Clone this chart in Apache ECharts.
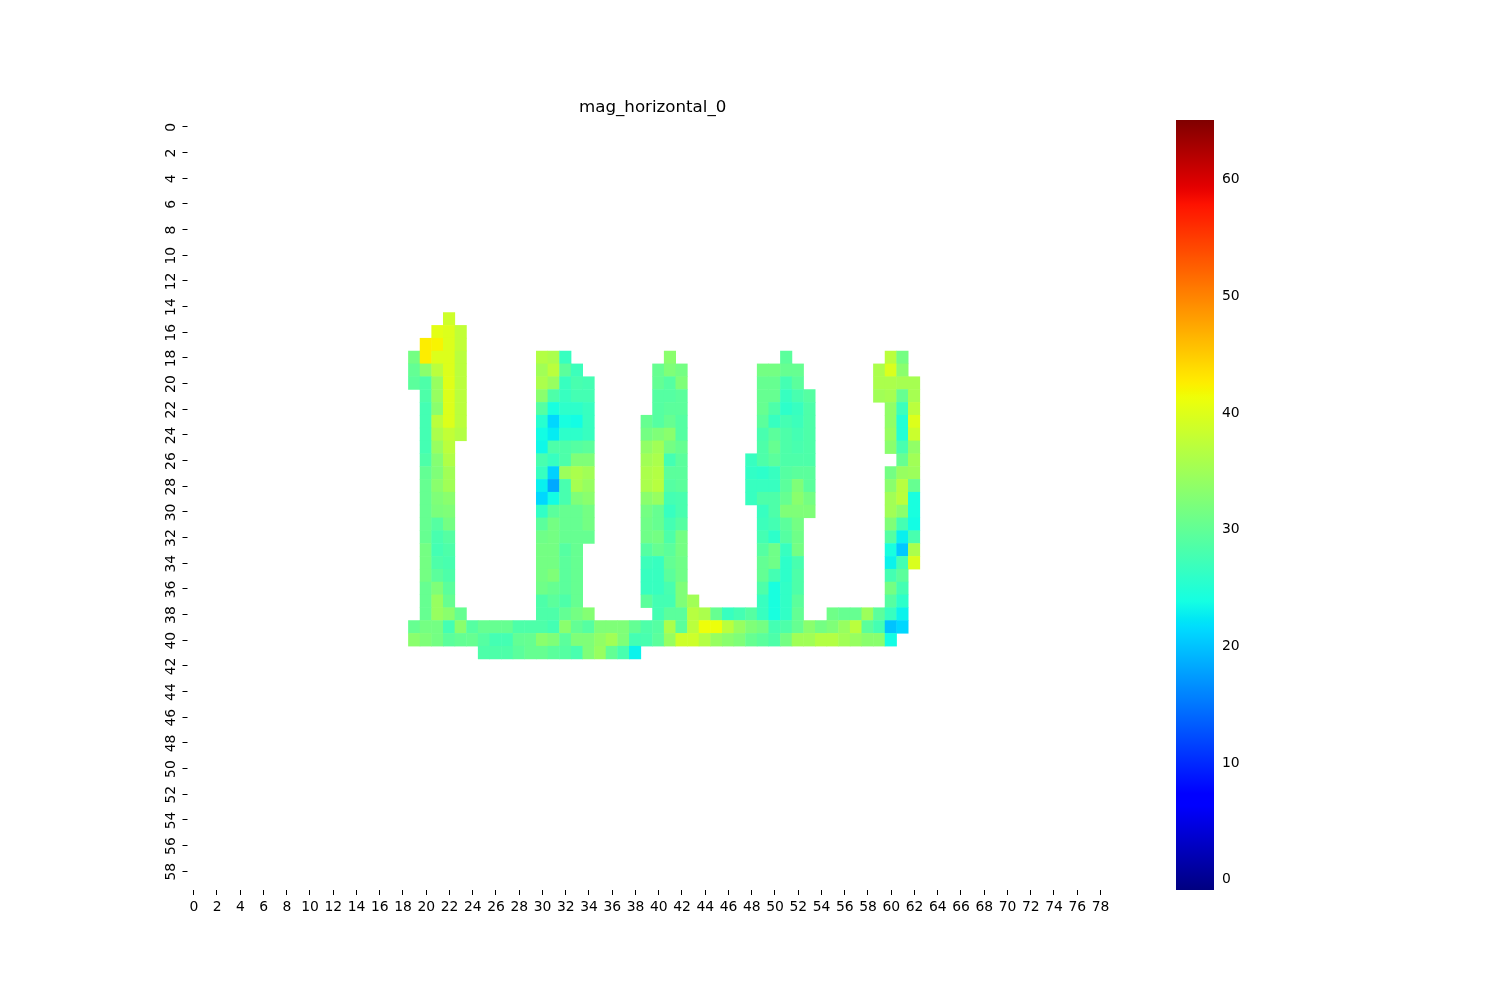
<!DOCTYPE html>
<html><head><meta charset="utf-8">
<style>html,body{margin:0;padding:0;background:#fff}#c{width:1500px;height:1000px}</style>
<script src="https://cdn.jsdelivr.net/npm/echarts@6/dist/echarts.min.js"></script>
</head><body><div id="c"></div>
<script>
const xCategories = Array.from({length:80},(_,i)=>String(i));
const yCategories = Array.from({length:60},(_,i)=>String(i));
const colorbarTicks = [0,10,20,30,40,50,60];
const valueMin = -1, valueMax = 65;
// each row: list of runs; a run is [first column, value, value, ...]
const row15 = [[22,38.5]];
const row16 = [[21,40.3,39.7,37.6]];
const row17 = [[20,42.5,42,39.7,37.6]];
const row18 = [[19,31.4,42.5,39.7,39.7,37],[30,36.5,35.8,26.5],[41,33.2],[51,29.4],[60,37,31.4]];
const row19 = [[19,30,33.2,37,39.7,37],[30,35,37,29.4,26.9],[40,30.3,32.3,31.4],[49,31.4,31.4,30.3,30.3],[59,35.8,39.5,33.2]];
const row20 = [[19,29.4,28.3,34.2,40,37],[30,35.8,34.2,26.5,27.9,27.5],[40,30,28.9,32.3],[49,30.3,30.3,27.5,29.4],[59,35.8,35.8,35.4,35.4]];
const row21 = [[20,28.3,34.2,39.7,37],[30,33.2,28.3,26.5,27.5,27.5],[40,28.9,28.9,29.4],[49,30.3,30.3,26.5,27.9,28.9],[59,35,35.4,30.3,35.4]];
const row22 = [[20,27.5,33.2,39.7,37],[30,28.9,24,25.7,25.7,26.5],[40,28.9,29.4,29.4],[49,30.3,28.3,25.7,26.5,28.3],[60,33.7,26.9,37]];
const row23 = [[20,27.5,37,39.7,37],[30,25.2,21.2,24,23.6,26.5],[39,30.3,28.9,30.3,28.9],[49,29.4,26.5,27.5,26.9,28.3],[60,33.7,24.9,39.7]];
const row24 = [[20,27.5,35.8,37.6,36.5],[30,23.6,22.5,25.7,25.7,26.5],[39,31.4,32.3,33.2,28.9],[49,27.9,29.4,28.3,27.5,28.3],[60,34.2,24.9,38.3]];
const row25 = [[20,27.5,34.2,37],[30,23.3,28.3,28.3,28.9,29.4],[39,33.7,35,31.4,30.3],[49,28.3,30.3,28.3,27.9,28.3],[60,33.2,27.9,33.7]];
const row26 = [[20,28.3,32.7,36.2],[30,27.9,26.5,28.3,32.3,32.3],[39,35,35.8,27.5,29.4],[48,26.5,28.3,29.4,28.3,28.3,28.3],[61,30.3,35]];
const row27 = [[20,30,32.3,35],[30,26.5,20.8,34.6,35.8,35],[39,35.8,36.5,29.4,29.4],[48,26,25.7,26.5,28.9,29.4,29.4],[60,31.4,34.2,34.6]];
const row28 = [[20,30.3,33.2,35],[30,22.8,18.2,27.9,35.4,34.2],[39,35.8,36.8,28.9,29.4],[48,26.5,26.5,26.5,29.4,32.3,29.4],[60,33.2,36.8,30.3]];
const row29 = [[20,30.3,32.3,33.2],[30,21.2,23.6,27.9,32.3,33.2],[39,33.2,34.2,27.5,27.9],[48,26.5,28.3,28.3,30.3,33.2,31.4],[60,35,37,24]];
const row30 = [[20,30.3,31.9,32.3],[30,26,29.4,30.3,30.3,31.4],[39,31.4,30.3,26.5,27.9],[49,26.5,28.3,32.3,32.3,32.3],[60,35,33.2,24]];
const row31 = [[20,30.3,28.9,31.4],[30,29.4,31.4,30.3,30.3,31.4],[39,31,30.3,27.5,28.9],[49,26.9,27.5,29.4,31.4],[60,32.3,27.5,23.6]];
const row32 = [[20,30.3,27.9,28.9],[30,31,31.4,30.3,30.3,30.3],[39,31,31.4,28.3,31.4],[49,27.5,25.7,28.9,31],[60,28.9,22.8,27.9]];
const row33 = [[20,31.4,27.5,28.3],[30,31.4,31.4,28.9,30.3],[39,28.9,30.3,29.4,31.4],[49,28.9,31,26.5,31.4],[60,24,20.2,35.8]];
const row34 = [[20,31.4,28.3,27.9],[30,31.4,31.4,29.4,30.3],[39,26.9,26.5,30,31],[49,30,31,25.7,27.9],[60,23,27.5,39.5]];
const row35 = [[20,31.4,29.4,28.3],[30,31.4,32.3,29.4,30.3],[39,26.5,26.5,29.4,31],[49,30,27.5,25.7,28.3],[60,27.5,29.4]];
const row36 = [[20,30.3,32.3,29.4],[30,31,30.3,29.4,30.3],[39,26.5,26.5,27.9,32.3],[49,28.3,24,26,28.3],[60,31.4,27.5]];
const row37 = [[20,30.3,34.2,30.3],[30,28.3,29.4,28.3,30.3],[39,29.4,27.5,27.5,32.3,35],[49,26.5,24,26,29.4],[60,28.9,25.7]];
const row38 = [[20,30.3,34.2,33.2,30.3],[30,28.3,28.3,30,31.4,32.7],[40,27.5,29.4,29.4,36.8,35.8,30.3,26.5,27.5,28.9,26.5,24,26,30],[55,31,30.3,30.3,34.6,29.4,26.5,23]];
const row39 = [[19,30.3,31.4,31.4,27.5,33.2,28.9,30.3,30.3,30.3,28.3,28.3,28.3,27.5,33.2,30,28.9,32.3,32.3,32.3,30,28.3,28.9,35.8,29.4,37,41.2,41,37,34.2,32.3,31.4,27.5,28.3,30.3,33.2,31.4,32.3,34.2,37,29.4,27.5,19.9,21.2]];
const row40 = [[19,33.2,32.3,31.4,29.4,30,30.3,28.9,27.5,27.5,30,30.3,33.2,32.3,29.4,32.3,32.3,33.7,35,32.3,27.5,27.9,29.4,34.2,38.5,38.5,36.5,34.2,33.2,32.3,30.3,29.4,28.3,31.4,35,35,36.5,36.5,35,34.2,33.2,33.2,23.6]];
const row41 = [[25,28.3,28.3,28.3,29.4,30.3,30.3,29.4,28.9,27.9,32.3,34.2,30,27.9,23]];

const rowsByIndex = {15:row15,16:row16,17:row17,18:row18,19:row19,20:row20,21:row21,22:row22,23:row23,24:row24,25:row25,26:row26,27:row27,28:row28,29:row29,30:row30,31:row31,32:row32,33:row33,34:row34,35:row35,36:row36,37:row37,38:row38,39:row39,40:row40,41:row41};
const cells = [];
Object.keys(rowsByIndex).forEach(r=>{
  rowsByIndex[r].forEach(run=>{
    for(let i=1;i<run.length;i++) cells.push([run[0]+i-1,Number(r),run[i]]);
  });
});
// matplotlib "jet" colormap
function lerpStops(st,t){for(let i=1;i<st.length;i++){if(t<=st[i][0]){const a=st[i-1],b=st[i];return a[1]+(b[1]-a[1])*(t-a[0])/(b[0]-a[0]);}}return st[st.length-1][1];}
const jR=[[0,0],[.35,0],[.66,1],[.89,1],[1,.5]],jG=[[0,0],[.125,0],[.375,1],[.64,1],[.91,0],[1,0]],jB=[[0,.5],[.11,1],[.34,1],[.65,0],[1,0]];
const jet=[];
for(let i=0;i<=128;i++){const t=i/128;jet.push('rgb('+Math.round(255*lerpStops(jR,t))+','+Math.round(255*lerpStops(jG,t))+','+Math.round(255*lerpStops(jB,t))+')');}

const font='"DejaVu Sans"';
const tick={show:true,length:5,lineStyle:{color:'#000',width:1}};
const chart=echarts.init(document.getElementById('c'),null,{renderer:'canvas'});
chart.setOption({
  animation:false,
  backgroundColor:'#fff',
  title:{text:'mag_horizontal_0',left:574,top:94,textStyle:{fontFamily:font,fontSize:16.67,fontWeight:'normal',color:'#000'}},
  grid:[{left:187.5,top:120,width:930,height:770,containLabel:false},{left:1176,top:120,width:38,height:770,containLabel:false}],
  xAxis:[
    {type:'category',gridIndex:0,data:xCategories,boundaryGap:true,position:'bottom',
     axisLine:{show:false},splitLine:{show:false},
     axisTick:Object.assign({alignWithLabel:true,interval:1},tick),
     axisLabel:{interval:1,margin:10,color:'#000',fontFamily:font,fontSize:13.9,hideOverlap:false,padding:[0,0,0,1]}},
    {type:'value',gridIndex:1,show:false,min:0,max:1}
  ],
  yAxis:[
    {type:'category',gridIndex:0,data:yCategories,inverse:true,boundaryGap:true,
     axisLine:{show:false},splitLine:{show:false},
     axisTick:Object.assign({alignWithLabel:true,interval:1},tick),
     axisLabel:{interval:1,rotate:90,margin:9,color:'#000',fontFamily:font,fontSize:13.9,hideOverlap:false,align:'center',verticalAlign:'bottom',padding:[0,2,0,0]}},
    {type:'value',gridIndex:1,position:'right',min:valueMin,max:valueMax,
     axisLine:{show:false},splitLine:{show:false},
     axisTick:Object.assign({customValues:colorbarTicks},tick),
     axisLabel:{customValues:colorbarTicks,margin:8,color:'#000',formatter:'{a|{value}}',
       rich:{a:{fontFamily:font,fontSize:13.9,color:'#000',padding:[3,0,0,0]}}}}
  ],
  visualMap:{type:'continuous',seriesIndex:0,min:valueMin,max:valueMax,show:false,inRange:{color:jet}},
  graphic:[{type:'rect',silent:true,z:5,shape:{x:1176,y:120,width:38,height:770},
    style:{fill:new echarts.graphic.LinearGradient(0,1,0,0,jet.map((c,i)=>({offset:i/(jet.length-1),color:c})))}}],
  series:[{type:'heatmap',xAxisIndex:0,yAxisIndex:0,data:cells,progressive:0,itemStyle:{borderWidth:0},emphasis:{disabled:true}}]
});
</script></body></html>
